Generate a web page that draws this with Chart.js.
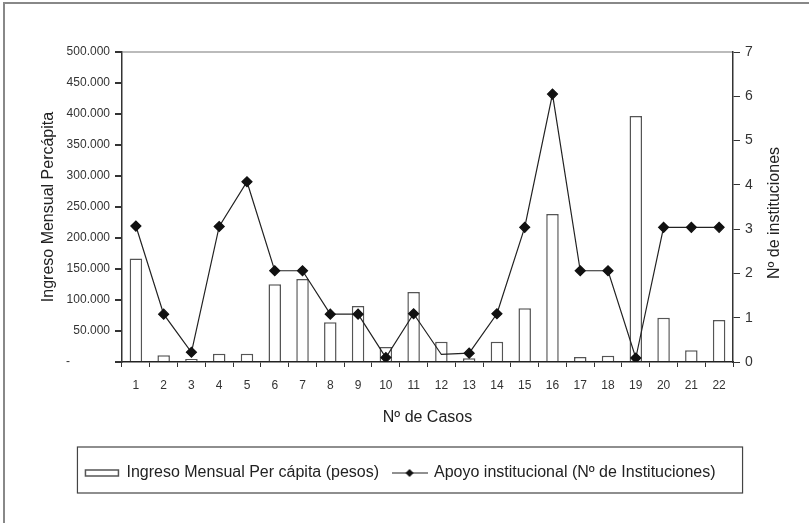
<!DOCTYPE html>
<html>
<head>
<meta charset="utf-8">
<script src="https://cdn.jsdelivr.net/npm/chart.js@4.4.0/dist/chart.umd.min.js"></script>
<style>
body { margin: 0; background: #fff; }
</style>
</head>
<body>
<canvas id="myChart" width="809" height="523"></canvas>
<script>
// datos
const casos = ['1','2','3','4','5','6','7','8','9','10','11','12','13','14','15','16','17','18','19','20','21','22'];
const ingreso = [167000, 10800, 4800, 13400, 13400, 125300, 133900, 64000, 90300, 24200, 112900,
                 32800, 5900, 32800, 86500, 238700, 8100, 10200, 396800, 71500, 18800, 67700];
const instituciones = [3.07, 1.08, 0.22, 3.06, 4.07, 2.06, 2.06, 1.08, 1.08, 0.10, 1.09,
                       0.17, 0.20, 1.09, 3.04, 6.05, 2.06, 2.06, 0.09, 3.04, 3.04, 3.04];
const labelBarras = 'Ingreso Mensual Per cápita (pesos)';
const labelLinea = 'Apoyo institucional (Nº de Instituciones)';
const tituloDerecho = 'Nº de instituciones';

Chart.defaults.font.family = "'Liberation Sans', Arial, sans-serif";
Chart.defaults.color = '#222';

function miles(v) {
    if (v === 0) return '-' + ' '.repeat(12);
    return String(v).replace(/\B(?=(\d{3})+(?!\d))/g, '.');
}

// simbolo de la leyenda para la linea
const simboloLinea = document.createElement('canvas');
simboloLinea.width = 36;
simboloLinea.height = 10;
const sctx = simboloLinea.getContext('2d');
sctx.strokeStyle = '#222';
sctx.lineWidth = 1.2;
sctx.beginPath(); sctx.moveTo(0, 5); sctx.lineTo(36, 5); sctx.stroke();
sctx.fillStyle = '#111';
sctx.beginPath(); sctx.moveTo(14, 5); sctx.lineTo(18, 1); sctx.lineTo(22, 5); sctx.lineTo(18, 9); sctx.closePath(); sctx.fill();

const marco = {
    id: 'marco',
    beforeDraw(chart) {
        const ctx = chart.ctx;
        ctx.save();
        ctx.fillStyle = '#fff';
        ctx.fillRect(0, 0, chart.width, chart.height);
        ctx.strokeStyle = '#888';
        ctx.lineWidth = 2;
        ctx.strokeRect(4, 3, chart.width + 20, chart.height + 20);
        ctx.restore();
    },
    afterDraw(chart) {
        const ctx = chart.ctx;
        const lg = chart.legend;
        const hb = lg.legendHitBoxes;
        const last = hb[hb.length - 1];
        const x0 = hb[0].left - 8;
        const x1 = last.left + last.width + 27;
        ctx.save();
        ctx.strokeStyle = '#444';
        ctx.lineWidth = 1.2;
        ctx.strokeRect(x0, lg.top - 4, x1 - x0, lg.height + 6);

        // titulo del eje derecho, leido de abajo hacia arriba
        const y1 = chart.scales.y1;
        ctx.translate(y1.right - 6, (y1.top + y1.bottom) / 2 + 6);
        ctx.rotate(-Math.PI / 2);
        ctx.font = "16px 'Liberation Sans', Arial, sans-serif";
        ctx.fillStyle = '#222';
        ctx.textAlign = 'center';
        ctx.textBaseline = 'middle';
        ctx.fillText(tituloDerecho, 0, 0);
        ctx.restore();
    }
};

const ctx = document.getElementById('myChart').getContext('2d');
const myChart = new Chart(ctx, {
    type: 'bar',
    data: {
        labels: casos,
        datasets: [{
            type: 'line',
            label: labelLinea,
            data: instituciones,
            yAxisID: 'y1',
            borderColor: '#222',
            borderWidth: 1.2,
            pointStyle: 'rectRot',
            pointRadius: instituciones.map((v, i) => i === 11 ? 0 : 5),
            pointBackgroundColor: '#111',
            pointBorderColor: '#111',
            tension: 0,
            fill: false,
            order: 0
        }, {
            label: labelBarras,
            data: ingreso,
            yAxisID: 'y',
            backgroundColor: '#fff',
            borderColor: '#555',
            borderWidth: 1.5,
            barPercentage: 0.45,
            categoryPercentage: 1,
            order: 1
        }]
    },
    options: {
        responsive: false,
        animation: false,
        layout: { padding: { left: 20, right: 28, top: 52, bottom: 32 } },
        plugins: {
            tooltip: { enabled: false },
            legend: {
                position: 'bottom',
                labels: {
                    usePointStyle: true,
                    pointStyleWidth: 33,
                    boxHeight: 6,
                    padding: 14,
                    font: { size: 16 },
                    color: '#222',
                    generateLabels: function(chart) {
                        return [
                            { text: labelBarras, fillStyle: '#fff', strokeStyle: '#555', lineWidth: 1.5,
                              pointStyle: 'rect', datasetIndex: 1, hidden: false, fontColor: '#222' },
                            { text: labelLinea, fillStyle: '#111', strokeStyle: '#111', lineWidth: 0,
                              pointStyle: simboloLinea, datasetIndex: 0, hidden: false, fontColor: '#222' }
                        ];
                    }
                }
            }
        },
        scales: {
            x: {
                grid: { offset: true, drawOnChartArea: false, tickLength: 5, tickColor: '#333' },
                border: { color: '#222', width: 1.5 },
                ticks: { font: { size: 12 }, color: '#333', padding: 11, maxRotation: 0, autoSkip: false },
                title: { display: true, text: 'Nº de Casos', font: { size: 16 }, color: '#222',
                         padding: { top: 0, bottom: 24 } },
                afterFit: function(s) { s.height = 89; }
            },
            y: {
                position: 'left',
                min: 0,
                max: 500000,
                ticks: { stepSize: 50000, font: { size: 12 }, color: '#333', padding: 5, callback: miles },
                grid: {
                    tickLength: 7,
                    tickColor: '#333',
                    lineWidth: 2,
                    color: c => c.tick && c.tick.value === 500000 ? '#bbb' : 'rgba(0,0,0,0)'
                },
                border: { color: '#333', width: 1.5 },
                title: { display: true, text: 'Ingreso Mensual Percápita', font: { size: 16 }, color: '#222',
                         padding: { top: 19, bottom: 0 } },
                afterFit: function(s) { s.width = 102; }
            },
            y1: {
                position: 'right',
                min: 0,
                max: 7,
                ticks: { stepSize: 1, font: { size: 14 }, color: '#333', padding: 5 },
                grid: { drawOnChartArea: false, tickLength: 7, tickColor: '#333' },
                border: { color: '#333', width: 1.5 },
                afterFit: function(s) { s.width = 48; }
            }
        }
    },
    plugins: [marco]
});
</script>
</body>
</html>
